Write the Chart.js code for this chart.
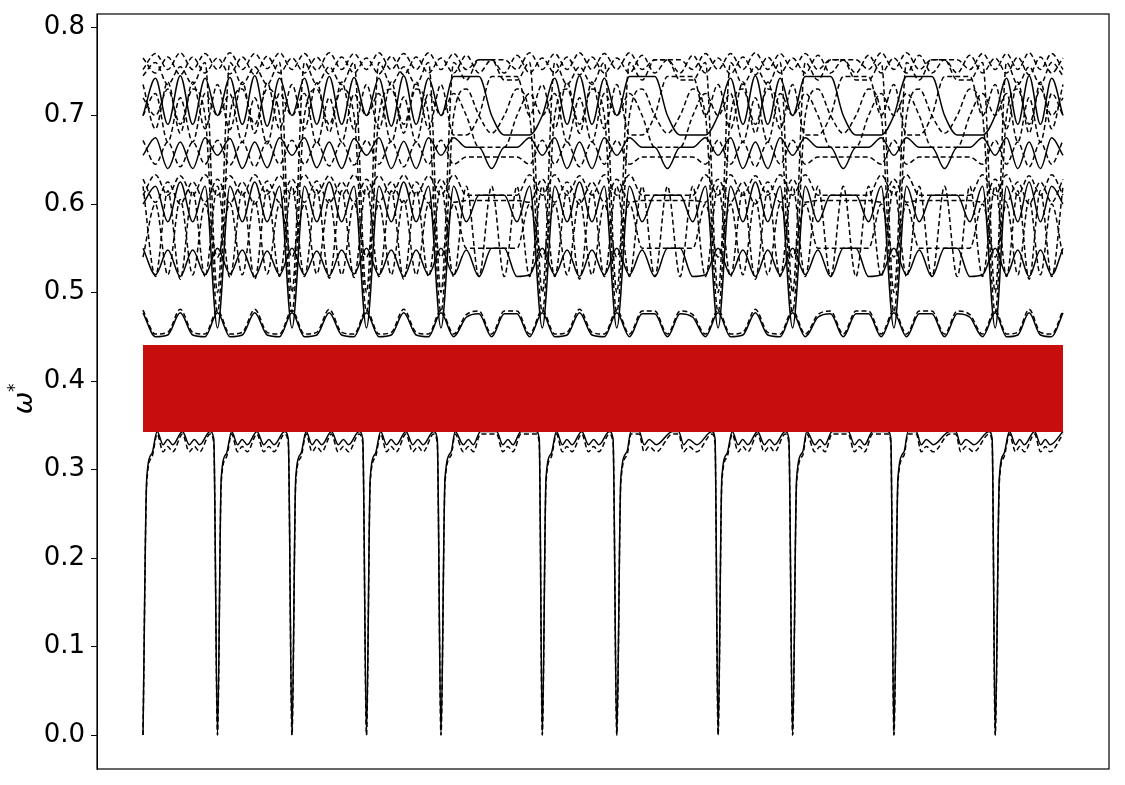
<!DOCTYPE html>
<html lang="en">
<head>
  <meta charset="UTF-8" />
  <title>Band structure</title>
  <script src="https://cdn.jsdelivr.net/npm/chart.js"></script>
  <style>
    html, body { margin: 0; padding: 0; background: #fff; overflow: hidden; }
    canvas { display: block; }
  </style>
</head>
<body>
<canvas id="bands" width="1125" height="785"></canvas>

<script>
  // k-path (arbitrary units), segment ends at the high-symmetry points
  const kGrid = [
    0, 0.167, 0.333, 0.5, 0.667, 0.833, 1,
    1.167, 1.333, 1.5, 1.667, 1.833, 2,
    2.167, 2.333, 2.5, 2.667, 2.833, 3,
    3.167, 3.333, 3.5, 3.667, 3.833, 4,
    4.17, 4.34, 4.51, 4.68, 4.85, 5.02, 5.19, 5.36,
    5.527, 5.693, 5.86, 6.027, 6.193, 6.36,
    6.53, 6.70, 6.87, 7.04, 7.21, 7.38, 7.55, 7.72,
    7.887, 8.053, 8.22, 8.387, 8.553, 8.72,
    8.89, 9.06, 9.23, 9.40, 9.57, 9.74, 9.91, 10.08,
    10.25, 10.42, 10.59, 10.76, 10.93, 11.10, 11.27, 11.44,
    11.592, 11.743, 11.895, 12.047, 12.198, 12.35
  ];

  // finer k list for the lowest band (sharp dips to zero)
  const kLow = [
    0, 0.05, 0.12, 0.19, 0.27, 0.33, 0.40, 0.53, 0.62, 0.69, 0.76, 0.90, 0.95,
    1, 1.05, 1.12, 1.19, 1.27, 1.33, 1.40, 1.53, 1.62, 1.69, 1.76, 1.90, 1.95,
    2, 2.05, 2.12, 2.19, 2.27, 2.33, 2.40, 2.53, 2.62, 2.69, 2.76, 2.90, 2.95,
    3, 3.05, 3.12, 3.19, 3.27, 3.33, 3.40, 3.53, 3.62, 3.69, 3.76, 3.90, 3.95,
    4, 4.054, 4.136, 4.19, 4.30, 4.367, 4.435, 4.53, 4.748, 4.83, 4.898, 4.966, 5.074, 5.278, 5.319,
    5.36, 5.41, 5.48, 5.55, 5.63, 5.69, 5.76, 5.89, 5.98, 6.05, 6.12, 6.26, 6.31,
    6.36, 6.414, 6.496, 6.55, 6.66, 6.727, 6.795, 6.89, 7.108, 7.19, 7.258, 7.326, 7.434, 7.638, 7.679,
    7.72, 7.77, 7.84, 7.91, 7.99, 8.05, 8.12, 8.25, 8.34, 8.41, 8.48, 8.62, 8.67,
    8.72, 8.774, 8.856, 8.91, 9.02, 9.087, 9.155, 9.25, 9.468, 9.55, 9.618, 9.686, 9.794, 9.998, 10.039,
    10.08, 10.134, 10.216, 10.27, 10.38, 10.447, 10.515, 10.61, 10.828, 10.91, 10.978, 11.046, 11.154, 11.358, 11.399,
    11.44, 11.495, 11.558, 11.631, 11.713, 11.768, 11.831, 11.968, 12.05, 12.113, 12.177, 12.35
  ];

  const low1 = [
    0, .29, .318, .343, .328, .334, .328, .343, .328, .334, .328, .343, .335,
    0, .29, .318, .343, .328, .334, .328, .343, .328, .334, .328, .343, .335,
    0, .29, .318, .343, .328, .334, .328, .343, .328, .334, .328, .343, .335,
    0, .29, .318, .343, .328, .334, .328, .343, .328, .334, .328, .343, .335,
    0, .29, .32, .343, .328, .334, .328, .343, .343, .328, .334, .328, .343, .343, .335,
    0, .29, .318, .343, .328, .334, .328, .343, .328, .334, .328, .343, .335,
    0, .29, .32, .343, .343, .328, .334, .328, .343, .343, .328, .334, .328, .343, .335,
    0, .29, .318, .343, .328, .334, .328, .343, .328, .334, .328, .343, .335,
    0, .29, .32, .343, .328, .334, .328, .343, .343, .328, .334, .328, .343, .343, .335,
    0, .29, .32, .343, .343, .328, .334, .328, .343, .343, .328, .334, .328, .343, .335,
    0, .29, .318, .343, .328, .334, .328, .343, .328, .334, .328, .343
  ];
  const low2 = [
    0, .285, .314, .340, .320, .326, .320, .340, .320, .326, .320, .340, .330,
    0, .285, .314, .340, .320, .326, .320, .340, .320, .326, .320, .340, .330,
    0, .285, .314, .340, .320, .326, .320, .340, .320, .326, .320, .340, .330,
    0, .285, .314, .340, .320, .326, .320, .340, .320, .326, .320, .340, .330,
    0, .285, .316, .340, .320, .326, .320, .340, .340, .320, .326, .320, .340, .340, .330,
    0, .285, .314, .340, .320, .326, .320, .340, .320, .326, .320, .340, .330,
    0, .285, .316, .340, .340, .320, .326, .320, .340, .340, .320, .326, .320, .340, .330,
    0, .285, .314, .340, .320, .326, .320, .340, .320, .326, .320, .340, .330,
    0, .285, .316, .340, .320, .326, .320, .340, .340, .320, .326, .320, .340, .340, .330,
    0, .285, .316, .340, .340, .320, .326, .320, .340, .340, .320, .326, .320, .340, .330,
    0, .285, .314, .340, .320, .326, .320, .340, .320, .326, .320, .340
  ];

  // upper bands on kGrid
  const bandM = [.477,
    .450,.452,.477,.452,.450,.477,
    .450,.452,.477,.452,.450,.477,
    .450,.452,.477,.452,.450,.477,
    .450,.452,.477,.452,.450,.477,
    .450,.472,.476,.450,.476,.476,.450,.477,
    .450,.452,.477,.452,.450,.477,
    .450,.476,.476,.450,.476,.472,.450,.477,
    .450,.452,.477,.452,.450,.477,
    .450,.472,.476,.450,.476,.476,.450,.477,
    .450,.476,.476,.450,.476,.472,.450,.477,
    .450,.452,.477,.452,.450,.477];
  const bandM2 = [.480,
    .453,.455,.481,.455,.453,.480,
    .453,.455,.481,.455,.453,.480,
    .453,.455,.481,.455,.453,.480,
    .453,.455,.481,.455,.453,.480,
    .453,.475,.479,.453,.479,.479,.453,.480,
    .453,.455,.481,.455,.453,.480,
    .453,.479,.479,.453,.479,.475,.453,.480,
    .453,.455,.481,.455,.453,.480,
    .453,.475,.479,.453,.479,.479,.453,.480,
    .453,.479,.479,.453,.479,.475,.453,.480,
    .453,.455,.481,.455,.453,.480];
  const bandG = [.55,
    .52,.548,.518,.548,.52,.55,
    .521,.548,.518,.547,.52,.55,
    .52,.547,.519,.548,.521,.55,
    .52,.548,.518,.548,.52,.55,
    .52,.548,.518,.55,.55,.518,.52,.55,
    .52,.548,.518,.548,.52,.55,
    .52,.548,.518,.55,.55,.518,.52,.55,
    .52,.548,.518,.548,.52,.55,
    .52,.548,.518,.55,.55,.518,.52,.55,
    .52,.548,.518,.55,.55,.518,.52,.55,
    .52,.548,.518,.548,.52,.55];
  const bandV1 = [.62,
    .518,.615,.515,.615,.518,.62,
    .517,.615,.515,.616,.518,.62,
    .518,.616,.516,.615,.517,.62,
    .518,.615,.515,.615,.518,.62,
    .518,.62,.518,.62,.518,.62,.518,.62,
    .518,.615,.515,.615,.518,.62,
    .518,.62,.518,.62,.518,.62,.518,.62,
    .518,.615,.515,.615,.518,.62,
    .518,.62,.518,.62,.518,.62,.518,.62,
    .518,.62,.518,.62,.518,.62,.518,.62,
    .518,.615,.515,.615,.518,.62];
  const bandV2 = [.54,
    .60,.52,.605,.52,.60,.54,
    .601,.52,.604,.521,.60,.54,
    .60,.521,.605,.52,.601,.54,
    .60,.52,.604,.52,.60,.54,
    .60,.55,.55,.55,.55,.55,.60,.54,
    .60,.52,.605,.52,.60,.54,
    .60,.55,.55,.55,.55,.55,.60,.54,
    .60,.52,.605,.52,.60,.54,
    .60,.55,.55,.55,.55,.55,.60,.54,
    .60,.55,.55,.55,.55,.55,.60,.54,
    .60,.52,.605,.52,.60,.54];
  const bandF1 = [.61,
    .633,.61,.632,.61,.633,.61,
    .632,.61,.633,.611,.632,.61,
    .633,.611,.632,.61,.633,.61,
    .632,.61,.633,.61,.632,.61,
    .633,.61,.61,.61,.61,.61,.633,.61,
    .633,.61,.632,.61,.633,.61,
    .633,.61,.61,.61,.61,.61,.633,.61,
    .633,.61,.632,.61,.633,.61,
    .633,.61,.61,.61,.61,.61,.633,.61,
    .633,.61,.61,.61,.61,.61,.633,.61,
    .633,.61,.632,.61,.633,.61];
  const bandF2 = [.628,
    .602,.625,.60,.625,.602,.628,
    .601,.625,.60,.626,.602,.628,
    .602,.626,.601,.625,.602,.628,
    .602,.625,.60,.625,.601,.628,
    .602,.604,.604,.604,.604,.604,.602,.628,
    .602,.625,.60,.625,.602,.628,
    .602,.604,.604,.604,.604,.604,.602,.628,
    .602,.625,.60,.625,.602,.628,
    .602,.604,.604,.604,.604,.604,.602,.628,
    .602,.604,.604,.604,.604,.604,.602,.628,
    .602,.625,.60,.625,.602,.628];
  const bandW1 = [.672,
    .645,.67,.642,.67,.645,.672,
    .644,.67,.642,.671,.645,.672,
    .645,.67,.643,.67,.644,.672,
    .645,.671,.642,.67,.645,.672,
    .645,.653,.653,.653,.653,.653,.645,.672,
    .645,.67,.642,.67,.645,.672,
    .645,.653,.653,.653,.653,.653,.645,.672,
    .645,.67,.642,.67,.645,.672,
    .645,.653,.653,.653,.653,.653,.645,.672,
    .645,.653,.653,.653,.653,.653,.645,.672,
    .645,.67,.642,.67,.645,.672];
  const bandW2 = [.655,
    .675,.64,.67,.64,.675,.655,
    .674,.64,.67,.641,.675,.655,
    .675,.641,.67,.64,.674,.655,
    .675,.64,.671,.64,.675,.655,
    .675,.664,.664,.64,.664,.664,.675,.655,
    .675,.64,.67,.64,.675,.655,
    .675,.664,.664,.64,.664,.664,.675,.655,
    .675,.64,.67,.64,.675,.655,
    .675,.664,.664,.64,.664,.664,.675,.655,
    .675,.664,.664,.64,.664,.664,.675,.655,
    .675,.64,.67,.64,.675,.655];
  const bandA1 = [.70,
    .742,.69,.745,.69,.742,.70,
    .743,.69,.745,.688,.742,.70,
    .742,.69,.744,.69,.743,.70,
    .742,.688,.745,.69,.742,.70,
    .744,.744,.744,.70,.678,.678,.678,.70,
    .742,.69,.745,.69,.742,.70,
    .744,.744,.744,.70,.678,.678,.678,.70,
    .742,.69,.745,.69,.742,.70,
    .744,.744,.744,.70,.678,.678,.678,.70,
    .744,.744,.744,.70,.678,.678,.678,.70,
    .742,.69,.745,.69,.742,.70];
  const bandA2 = [.735,
    .685,.738,.68,.738,.685,.735,
    .684,.738,.68,.737,.685,.735,
    .685,.737,.681,.738,.684,.735,
    .685,.738,.68,.738,.685,.735,
    .678,.678,.70,.744,.744,.744,.70,.735,
    .685,.738,.68,.738,.685,.735,
    .678,.678,.70,.744,.744,.744,.70,.735,
    .685,.738,.68,.738,.685,.735,
    .678,.678,.70,.744,.744,.744,.70,.735,
    .678,.678,.70,.744,.744,.744,.70,.735,
    .685,.738,.68,.738,.685,.735];
  const bandA3 = [.70,
    .725,.67,.72,.67,.725,.70,
    .724,.67,.72,.668,.725,.70,
    .725,.668,.72,.67,.724,.70,
    .725,.67,.721,.67,.725,.70,
    .725,.70,.664,.664,.664,.70,.725,.70,
    .725,.67,.72,.67,.725,.70,
    .725,.70,.664,.664,.664,.70,.725,.70,
    .725,.67,.72,.67,.725,.70,
    .725,.70,.664,.664,.664,.70,.725,.70,
    .725,.70,.664,.664,.664,.70,.725,.70,
    .725,.67,.72,.67,.725,.70];
  const bandT1 = [.752,
    .770,.752,.771,.752,.770,.752,
    .771,.752,.770,.753,.771,.752,
    .770,.751,.771,.752,.770,.752,
    .771,.752,.770,.752,.771,.752,
    .770,.752,.763,.763,.763,.752,.771,.752,
    .770,.752,.771,.752,.770,.752,
    .771,.752,.763,.763,.763,.752,.770,.752,
    .770,.752,.771,.752,.770,.752,
    .770,.752,.763,.763,.763,.752,.771,.752,
    .771,.752,.763,.763,.763,.752,.770,.752,
    .770,.752,.771,.752,.770,.752];
  const bandT2 = [.765,
    .748,.766,.746,.766,.748,.765,
    .747,.766,.746,.767,.748,.765,
    .748,.766,.747,.766,.748,.765,
    .747,.767,.746,.766,.748,.765,
    .748,.768,.748,.763,.748,.768,.748,.765,
    .748,.766,.746,.766,.748,.765,
    .748,.768,.748,.763,.748,.768,.748,.765,
    .747,.766,.746,.766,.748,.765,
    .748,.768,.748,.763,.748,.768,.748,.765,
    .748,.768,.748,.763,.748,.768,.748,.765,
    .748,.766,.746,.766,.748,.765];
  // bands that plunge near the high-symmetry points
  const bandD1 = [.72,
    .70,.73,.69,.73,.70,.478,
    .70,.73,.69,.73,.70,.478,
    .70,.73,.69,.73,.70,.478,
    .70,.73,.69,.73,.70,.478,
    .70,.73,.70,.68,.70,.73,.70,.478,
    .70,.73,.69,.73,.70,.478,
    .70,.73,.70,.68,.70,.73,.70,.478,
    .70,.73,.69,.73,.70,.478,
    .70,.73,.70,.68,.70,.73,.70,.478,
    .70,.73,.70,.68,.70,.73,.70,.478,
    .70,.73,.69,.73,.70,.72];
  const bandD2 = [.60,
    .62,.58,.625,.58,.62,.46,
    .62,.58,.625,.58,.62,.46,
    .62,.58,.625,.58,.62,.46,
    .62,.58,.625,.58,.62,.46,
    .62,.58,.61,.61,.61,.58,.62,.46,
    .62,.58,.625,.58,.62,.46,
    .62,.58,.61,.61,.61,.58,.62,.46,
    .62,.58,.625,.58,.62,.46,
    .62,.58,.61,.61,.61,.58,.62,.46,
    .62,.58,.61,.61,.61,.58,.62,.46,
    .62,.58,.625,.58,.62,.60];
  const bandD3 = [.745,
    .76,.735,.755,.735,.76,.50,
    .76,.735,.755,.735,.76,.50,
    .76,.735,.755,.735,.76,.50,
    .76,.735,.755,.735,.76,.50,
    .76,.74,.763,.763,.74,.74,.76,.50,
    .76,.735,.755,.735,.76,.50,
    .76,.74,.763,.763,.74,.74,.76,.50,
    .76,.735,.755,.735,.76,.50,
    .76,.74,.763,.763,.74,.74,.76,.50,
    .76,.74,.763,.763,.74,.74,.76,.50,
    .76,.735,.755,.735,.76,.745];

  // band gap (red)
  const gapK = [0, 12.35];
  const gapLow = [0.3424, 0.3424];
  const gapHigh = [0.4407, 0.4407];

  const yTicks = [0, 0.1, 0.2, 0.3, 0.4, 0.5, 0.6, 0.7, 0.8];

  const pts = (ks, ws) => ks.map((k, i) => ({ x: k, y: ws[i] }));
  const line = (ks, ws, dashed) => ({
    data: pts(ks, ws),
    borderColor: '#000',
    borderWidth: 1.5,
    borderDash: dashed ? [5, 3] : [],
    pointRadius: 0,
    cubicInterpolationMode: 'monotone',
    fill: false
  });

  const datasets = [
    { data: pts(gapK, gapLow), borderWidth: 0, pointRadius: 0, fill: false },
    { data: pts(gapK, gapHigh), borderWidth: 0, pointRadius: 0, fill: '-1', backgroundColor: '#c80d0d' },
    line(kLow, low2, true),
    line(kLow, low1, false),
    line(kGrid, bandM2, true),
    line(kGrid, bandM, false),
    line(kGrid, bandG, false),
    line(kGrid, bandV1, true),
    line(kGrid, bandV2, true),
    line(kGrid, bandF1, true),
    line(kGrid, bandF2, true),
    line(kGrid, bandW1, true),
    line(kGrid, bandW2, false),
    line(kGrid, bandA1, false),
    line(kGrid, bandA2, true),
    line(kGrid, bandA3, true),
    line(kGrid, bandT1, true),
    line(kGrid, bandT2, true),
    line(kGrid, bandD1, true),
    line(kGrid, bandD2, false),
    line(kGrid, bandD3, true)
  ];

  // box around the plot + omega* axis label
  const frame = {
    id: 'frame',
    afterDraw(chart) {
      const { ctx, chartArea: a } = chart;
      ctx.save();
      ctx.strokeStyle = '#000';
      ctx.lineWidth = 1.2;
      ctx.strokeRect(a.left, a.top, a.right - a.left, a.bottom - a.top);
      ctx.translate(32, 403);
      ctx.rotate(-Math.PI / 2);
      ctx.fillStyle = '#000';
      ctx.textAlign = 'center';
      ctx.textBaseline = 'alphabetic';
      ctx.font = 'italic 27px "DejaVu Sans"';
      ctx.fillText('ω', 0, 0);
      ctx.textAlign = 'left';
      ctx.font = '17px "DejaVu Sans"';
      ctx.fillText('*', 11, -12);
      ctx.restore();
    }
  };

  new Chart(document.getElementById('bands'), {
    type: 'line',
    data: { datasets },
    plugins: [frame],
    options: {
      responsive: false,
      animation: false,
      devicePixelRatio: 1,
      layout: { padding: { left: 0, right: 16, top: 14, bottom: 16 } },
      plugins: { legend: { display: false }, tooltip: { enabled: false } },
      scales: {
        x: { type: 'linear', min: -0.6175, max: 12.9675, display: false },
        y: {
          type: 'linear',
          min: -0.0384,
          max: 0.8147,
          afterBuildTicks: s => { s.ticks = yTicks.map(v => ({ value: v })); },
          afterFit: s => { s.width = 97; },
          grid: { drawOnChartArea: false, drawTicks: true, tickLength: 6, color: '#000' },
          border: { display: true, color: '#000', width: 1 },
          ticks: {
            color: '#000',
            padding: 6,
            font: { family: 'DejaVu Sans', size: 26, lineHeight: 0.5 },
            callback: v => v.toFixed(1)
          }
        }
      }
    }
  });
</script>
</body>
</html>
